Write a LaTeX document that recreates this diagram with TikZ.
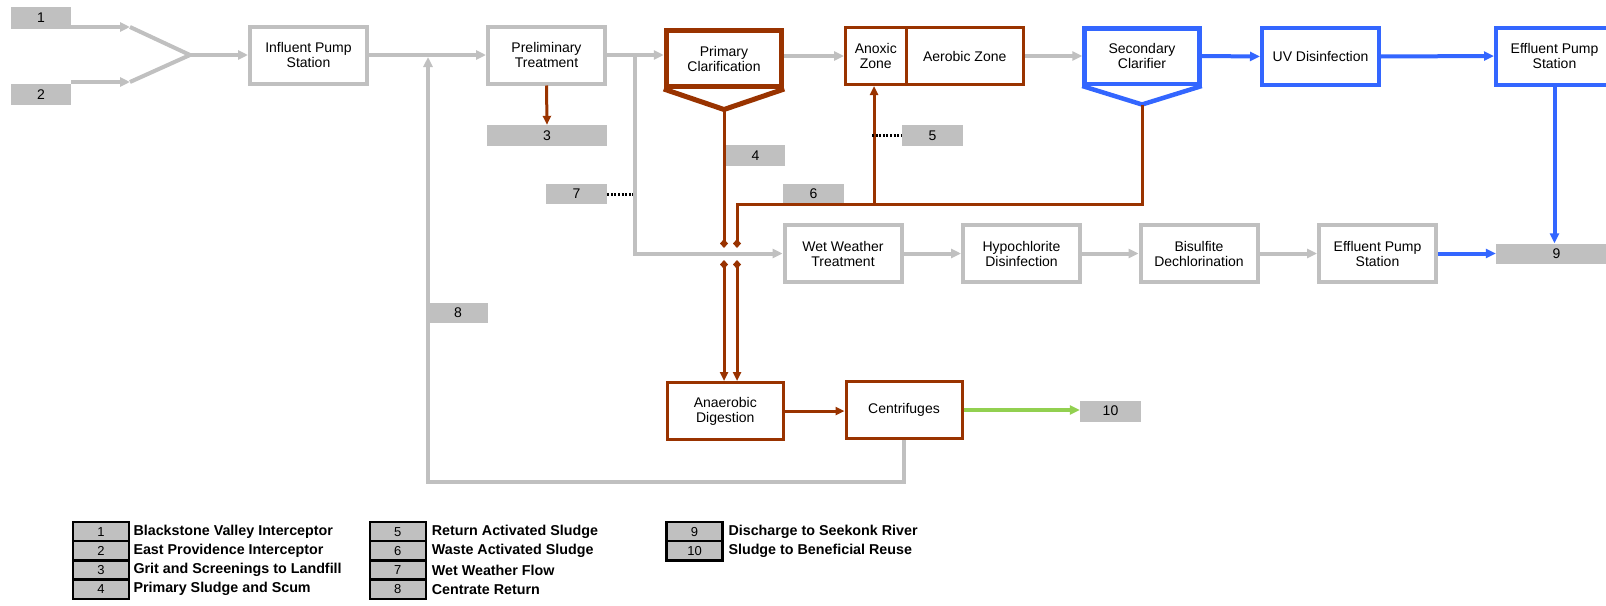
\documentclass[tikz,border=0pt]{standalone}
\usepackage{fontspec}
\setmainfont{Liberation Sans}
\usetikzlibrary{arrows.meta}
\definecolor{lgray}{HTML}{C0C0C0}
\definecolor{brn}{HTML}{993300}
\definecolor{blu}{HTML}{3366FF}
\definecolor{grn}{HTML}{92D050}
\begin{document}
\begin{tikzpicture}[x=1pt,y=-1pt,
  txt/.style={font=\fontsize{14}{15}\selectfont, align=center, inner sep=0pt},
  gbox/.style={txt, draw=lgray, line width=4pt, fill=white, minimum width=117pt, minimum height=57pt},
  bbox/.style={txt, draw=brn, line width=3pt, fill=white, minimum height=57pt},
  ubox/.style={txt, draw=blu, line width=4pt, fill=white, minimum width=117pt, minimum height=57pt},
  lab/.style={txt, fill=lgray, minimum height=21pt},
  gline/.style={draw=lgray, line width=4pt},
  garrow/.style={gline, -{Triangle[length=10pt,width=9pt]}},
  bline/.style={draw=brn, line width=3pt},
  barrow/.style={bline, -{Triangle[length=9pt,width=8pt]}},
  uarrow/.style={draw=blu, line width=4pt, -{Triangle[length=10pt,width=9pt]}},
  grarrow/.style={draw=grn, line width=4pt, -{Triangle[length=10pt,width=9pt]}},
  dotline/.style={draw=black, line width=3pt, dash pattern=on 2pt off 1.6pt},
  dtip/.style={-{Diamond[length=9pt,width=8pt]}},
  lgbox/.style={font=\fontsize{13}{14}\selectfont, inner sep=0pt, fill=lgray, draw=black, line width=2.5pt, minimum width=56pt, minimum height=19.2pt},
  lgtxt/.style={font=\bfseries\fontsize{14.3}{15}\selectfont, anchor=west, inner sep=0pt}
]
\clip (0,0) rectangle (1606,605);
\fill[white] (0,0) rectangle (1606,605);

% ---- main boxes, top row
\node[gbox] (inf) at (308.5,55) {Influent Pump\\Station};
\node[gbox] (pre) at (546.5,55) {Preliminary\\Treatment};
\node[bbox, line width=5pt, minimum width=115.5pt, minimum height=56pt] (prim) at (724,58.5) {Primary\\Clarification};
\node[bbox, minimum width=60.5pt] (anox) at (875.75,56) {Anoxic\\Zone};
\node[bbox, minimum width=117.5pt] (aer) at (964.75,56) {Aerobic Zone};
\node[ubox, line width=4.5pt, minimum width=115pt, minimum height=55.5pt] (sec) at (1142,56) {Secondary\\Clarifier};
\node[ubox] (uv) at (1320.5,56.5) {UV Disinfection};
\node[ubox] (eps1) at (1554.5,56) {Effluent Pump\\Station};

% ---- second row
\node[gbox] (wwt) at (843,253.5) {Wet Weather\\Treatment};
\node[gbox] (hyp) at (1021.5,253.5) {Hypochlorite\\Disinfection};
\node[gbox] (bis) at (1199,253.5) {Bisulfite\\Dechlorination};
\node[gbox] (eps2) at (1377.5,253.5) {Effluent Pump\\Station};

% ---- solids
\node[bbox, minimum width=116.5pt] (ad) at (725.3,411) {Anaerobic\\Digestion};
\node[bbox, minimum width=116pt] (cen) at (904,410) {Centrifuges};

% ---- number labels
\node[lab, minimum width=60pt, minimum height=22pt] (l1) at (41,17.5) {1};
\node[lab, minimum width=60pt] (l2) at (41,94.5) {2};
\node[lab, minimum width=120pt] (l3) at (547,135.5) {3};
\node[lab, minimum width=59pt] (l4) at (755.5,155.5) {4};
\node[lab, minimum width=61pt] (l5) at (932.5,135.5) {5};
\node[lab, minimum width=61pt, minimum height=20pt] (l6) at (813.5,194) {6};
\node[lab, minimum width=61pt, minimum height=20pt] (l7) at (576.5,194) {7};
\node[lab, minimum width=60pt, minimum height=20pt] (l8) at (458,313) {8};
\node[lab, minimum width=121pt, minimum height=20pt] (l9) at (1556.5,253.5) {9};
\node[lab, minimum width=61pt] (l10) at (1110.5,411) {10};

% ---- hoppers
\coordinate (ph) at (724,109.5);
\coordinate (sh) at (1142,104.5);
\draw[draw=brn, line width=5pt, line join=miter] (prim.south west) -- (ph) -- (prim.south east);
\draw[draw=blu, line width=4.5pt, line join=miter] (sec.south west) -- (sh) -- (sec.south east);

% ---- influent
\coordinate (a1) at (130,27);
\coordinate (a2) at (130,82);
\coordinate (mg) at (190,55);
\draw[garrow] (l1.east |- a1) -- (a1);
\draw[garrow] (l2.east |- a2) -- (a2);
\draw[gline, line join=miter] (a1) -- (mg) -- (a2);
\draw[garrow] (mg) -- (inf.west);

% ---- gray liquid train
\draw[garrow] (inf.east) -- (pre.west);
\draw[garrow] (pre.east) -- (pre.east -| prim.west);
\draw[garrow] (prim.east |- anox.west) -- (anox.west);
\draw[garrow] (aer.east) -- (sec.west);
\coordinate (wb) at (635,55);
\draw[garrow] (wb) |- (wwt.west);
\draw[garrow] (wwt.east) -- (hyp.west);
\draw[garrow] (hyp.east) -- (bis.west);
\draw[garrow] (bis.east) -- (eps2.west);

% ---- blue train
\draw[uarrow] (sec.east) -- (uv.west);
\draw[uarrow] (uv.east) -- (eps1.west);
\draw[uarrow] (eps1.south) -- (eps1.south |- l9.north);
\draw[uarrow] (eps2.east) -- (eps2.east -| l9.west);

% ---- grit
\draw[barrow] (pre.south) -- (l3.north);

% ---- sludge lines
\coordinate (d1) at (724,248);
\coordinate (d2) at (737,248);
\coordinate (d3) at (724,260);
\coordinate (d4) at (737,260);
\coordinate (ras) at (874,204.5);
\draw[bline, dtip] (ph) -- (d1);
\draw[bline, dtip, line join=miter] (sh) -- (sh |- ras) -- (d2 |- ras) -- (d2);
\draw[barrow] (ras) -- (ras |- anox.south);
\draw[bline, {Diamond[length=9pt,width=8pt]}-{Triangle[length=9pt,width=8pt]}] (d3) -- (d3 |- ad.north);
\draw[bline, {Diamond[length=9pt,width=8pt]}-{Triangle[length=9pt,width=8pt]}] (d4) -- (d4 |- ad.north);
\draw[barrow] (ad.east) -- (ad.east -| cen.west);
\draw[grarrow] (cen.east) -- (cen.east -| l10.west);

% ---- centrate return
\coordinate (c8) at (428,482);
\coordinate (j8) at (428,57);
\draw[garrow, line join=miter] (cen.south) -- (cen.south |- c8) -- (c8) -- (j8);

% ---- dotted leaders
\coordinate (r5) at (872,135.5);
\coordinate (r7) at (633,194);
\draw[dotline] (r5) -- (l5.west);
\draw[dotline] (l7.east) -- (r7);

% ---- legend
\node[lgbox] (k1) at (100.9,531.6) {1};
\node[lgbox] (k2) at (100.9,550.8) {2};
\node[lgbox] (k3) at (100.9,570.0) {3};
\node[lgbox] (k4) at (100.9,589.2) {4};
\node[lgbox] (k5) at (397.8,531.6) {5};
\node[lgbox] (k6) at (397.8,550.8) {6};
\node[lgbox] (k7) at (397.8,570.0) {7};
\node[lgbox] (k8) at (397.8,589.2) {8};
\node[lgbox] (k9) at (694.6,531.6) {9};
\node[lgbox] (k10) at (694.6,550.8) {10};
\node[lgtxt] (t1) at (133.3,531.6) {Blackstone Valley Interceptor};
\node[lgtxt] (t2) at (133.3,550.8) {East Providence Interceptor};
\node[lgtxt] (t3) at (133.3,570.0) {Grit and Screenings to Landfill};
\node[lgtxt] (t4) at (133.3,589.2) {Primary Sludge and Scum};
\node[lgtxt] (t5) at (431.7,531.6) {Return Activated Sludge};
\node[lgtxt] (t6) at (431.7,550.8) {Waste Activated Sludge};
\node[lgtxt] (t7) at (431.7,570.0) {Wet Weather Flow};
\node[lgtxt] (t8) at (431.7,589.2) {Centrate Return};
\node[lgtxt] (t9) at (728.3,531.6) {Discharge to Seekonk River};
\node[lgtxt] (t10) at (728.3,550.8) {Sludge to Beneficial Reuse};
\end{tikzpicture}
\end{document}
